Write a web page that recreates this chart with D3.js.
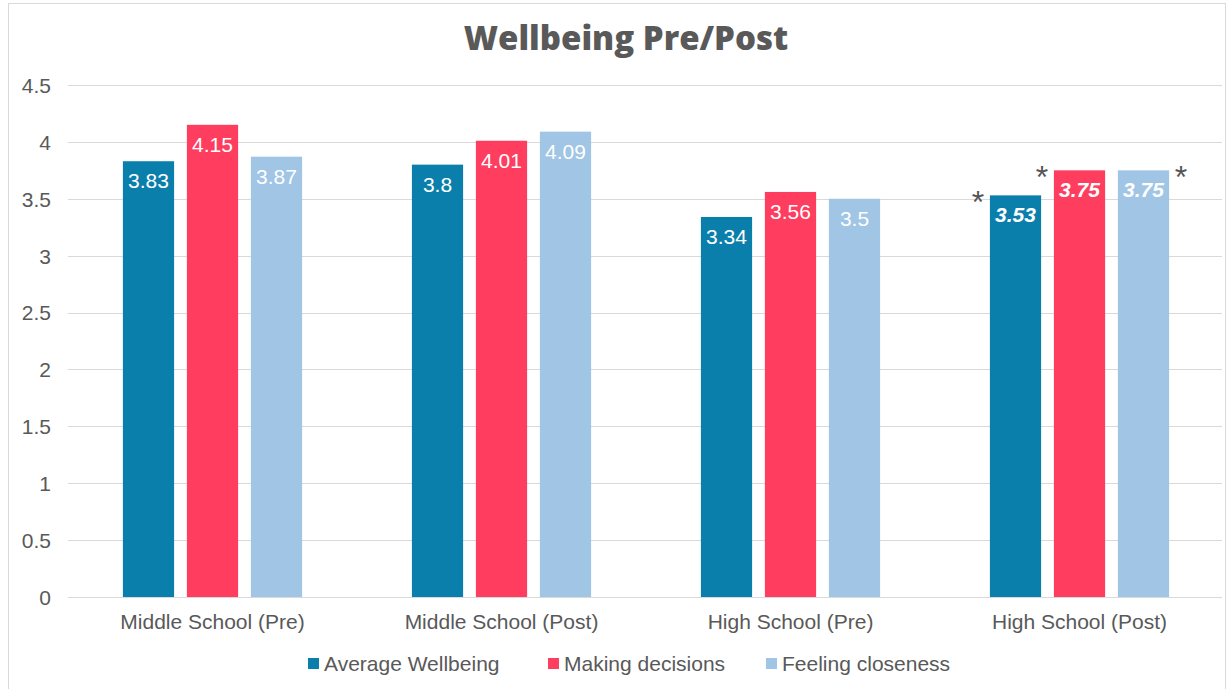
<!DOCTYPE html>
<html>
<head>
<meta charset="utf-8">
<script src="https://cdn.jsdelivr.net/npm/d3@7"></script>
<style>
  html, body { margin: 0; padding: 0; background: #ffffff; }
  svg { display: block; }
  text { font-family: "Liberation Sans", Arial, sans-serif; }
</style>
</head>
<body>
<svg id="chart" width="1229" height="689"></svg>
<script>
// Wellbeing survey means by group and measure
const categories = ["Middle School (Pre)", "Middle School (Post)", "High School (Pre)", "High School (Post)"];
const seriesNames = ["Average Wellbeing", "Making decisions", "Feeling closeness"];
const averageWellbeing = [3.83, 3.80, 3.34, 3.53];
const makingDecisions = [4.15, 4.01, 3.56, 3.75];
const feelingCloseness = [3.87, 4.09, 3.50, 3.75];
const labelText = [
  ["3.83", "4.15", "3.87"],
  ["3.8", "4.01", "4.09"],
  ["3.34", "3.56", "3.5"],
  ["3.53", "3.75", "3.75"]
];
const significantGroup = "High School (Post)";
const yTicks = [0, 0.5, 1, 1.5, 2, 2.5, 3, 3.5, 4, 4.5];
const colors = ["#0b7fab", "#fe3d5f", "#a0c5e5"];

const seriesValues = [averageWellbeing, makingDecisions, feelingCloseness];
const rows = categories.map((c, i) => ({
  category: c,
  values: seriesNames.map((s, j) => ({ series: s, value: seriesValues[j][i], label: labelText[i][j], idx: j }))
}));

const svg = d3.select("#chart");

// outer frame
svg.append("rect")
  .attr("x", 8.5).attr("y", 3.5).attr("width", 1217).attr("height", 700)
  .attr("fill", "none").attr("stroke", "#d9d9d9").attr("stroke-width", 1);

// title
svg.append("text")
  .attr("x", 626).attr("y", 50)
  .attr("text-anchor", "middle")
  .style("font-family", "'Open Sans', 'Lato', sans-serif")
  .style("font-weight", 800)
  .style("font-size", "33px")
  .attr("fill", "#595959")
  .text("Wellbeing Pre/Post");

const x0 = d3.scaleBand().domain(categories).range([68, 1224]).paddingInner(0).paddingOuter(0);
const x1 = d3.scaleBand().domain(seriesNames).range([-96, 96]).paddingInner(0.2).paddingOuter(0.1);
const y = d3.scaleLinear().domain([0, 4.5]).range([597, 85]);

// gridlines
svg.append("g")
  .selectAll("line")
  .data(yTicks)
  .join("line")
  .attr("x1", 68).attr("x2", 1222)
  .attr("y1", d => Math.round(y(d)) + 0.5)
  .attr("y2", d => Math.round(y(d)) + 0.5)
  .attr("stroke", "#d9d9d9").attr("stroke-width", 1.2);

// y axis labels
const yAxis = d3.axisLeft(y).tickValues(yTicks).tickSize(0).tickPadding(0).tickFormat(d3.format(""));
const gy = svg.append("g").attr("transform", "translate(51,0)").call(yAxis);
gy.select(".domain").remove();
gy.selectAll("text")
  .style("font-size", "21px")
  .attr("fill", "#595959")
  .attr("dy", "0.35em");

// x axis labels
const xAxis = d3.axisBottom(x0).tickSize(0).tickPadding(0);
const gx = svg.append("g").attr("transform", "translate(0,613)").call(xAxis);
gx.select(".domain").remove();
gx.selectAll("text")
  .style("font-size", "21px")
  .attr("fill", "#595959")
  .attr("dy", "0.75em");

// bars
const groups = svg.append("g")
  .selectAll("g")
  .data(rows)
  .join("g")
  .attr("transform", d => `translate(${x0(d.category) + x0.bandwidth() / 2},0)`);

groups.selectAll("rect")
  .data(d => d.values)
  .join("rect")
  .attr("x", d => x1(d.series))
  .attr("width", x1.bandwidth())
  .attr("y", d => y(d.value))
  .attr("height", d => y(0) - y(d.value))
  .attr("fill", d => colors[d.idx]);

// value labels inside bars
groups.each(function (row) {
  const sig = row.category === significantGroup;
  d3.select(this).selectAll("text.val")
    .data(row.values)
    .join("text")
    .attr("class", "val")
    .attr("x", d => x1(d.series) + x1.bandwidth() / 2)
    .attr("y", d => y(d.value) + 27)
    .attr("text-anchor", "middle")
    .attr("fill", "#ffffff")
    .style("font-size", "21px")
    .style("font-weight", sig ? "bold" : "normal")
    .style("font-style", sig ? "italic" : "normal")
    .text(d => d.label);
});

// significance markers
const sigRow = rows.find(r => r.category === significantGroup);
const gx0 = x0(significantGroup) + x0.bandwidth() / 2;
const markers = [
  { v: sigRow.values[0], side: -1 },
  { v: sigRow.values[1], side: -1 },
  { v: sigRow.values[2], side: 1 }
];
svg.append("g")
  .selectAll("text")
  .data(markers)
  .join("text")
  .attr("x", d => gx0 + x1(d.v.series) + (d.side < 0 ? -12 : x1.bandwidth() + 12))
  .attr("y", d => y(d.v.value) + 18)
  .attr("text-anchor", "middle")
  .attr("fill", "#555555")
  .style("font-size", "32px")
  .text("*");

// legend
const legendItems = [
  { name: seriesNames[0], x: 308 },
  { name: seriesNames[1], x: 548 },
  { name: seriesNames[2], x: 766 }
];
const lg = svg.append("g");
const li = lg.selectAll("g").data(legendItems).join("g")
  .attr("transform", d => `translate(${d.x},0)`);
li.append("rect")
  .attr("x", 0).attr("y", 658).attr("width", 11).attr("height", 11)
  .attr("fill", (d, i) => colors[i]);
li.append("text")
  .attr("x", 16).attr("y", 671)
  .style("font-size", "21px")
  .attr("fill", "#595959")
  .text(d => d.name);
</script>
</body>
</html>
